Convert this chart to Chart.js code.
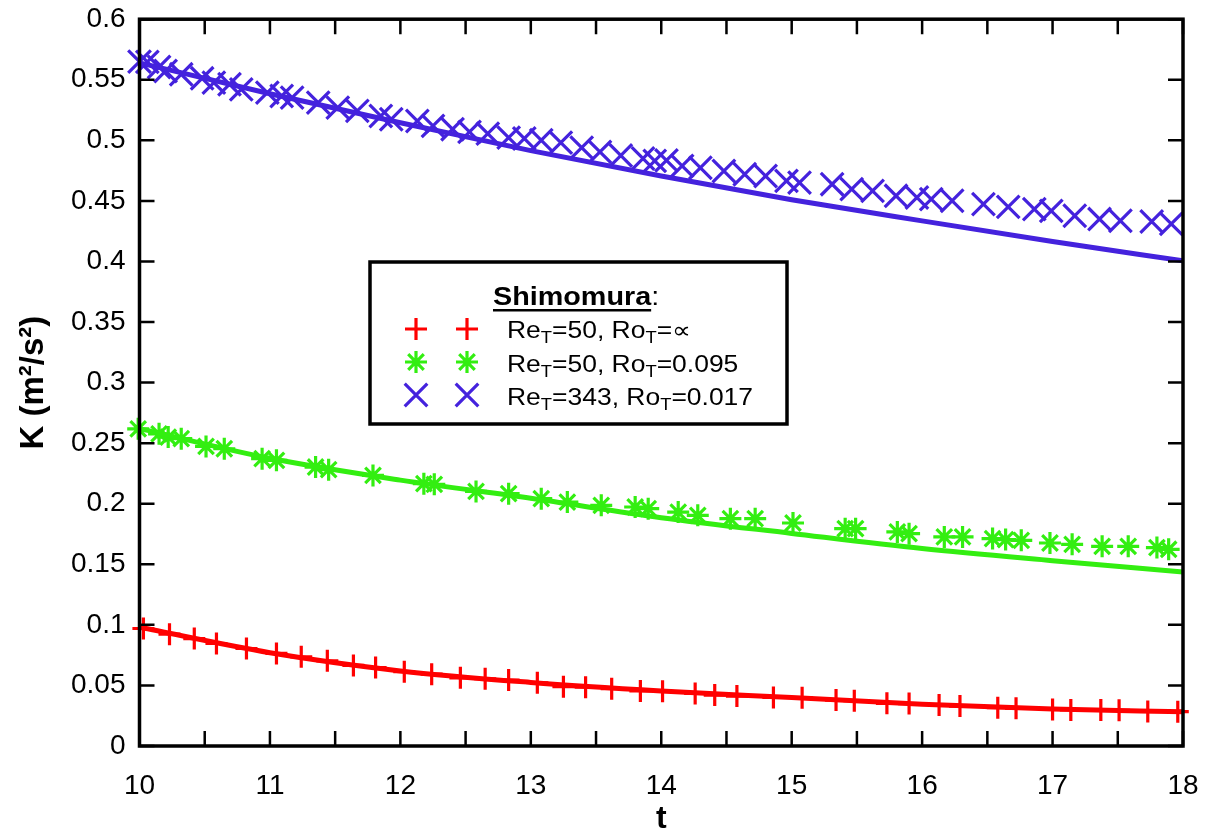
<!DOCTYPE html>
<html lang="en">
<head>
<meta charset="UTF-8">
<title>Shimomura K(t)</title>
<style>
  body { margin: 0; background: #fff; }
  #wrap { width: 1213px; height: 835px; }
</style>
</head>
<body>
<div id="wrap"><canvas id="kChart" width="1213" height="835"></canvas></div>
<script src="https://cdn.jsdelivr.net/npm/chart.js"></script>
<script>
// smooth curves (values read at t = 10..18)
const tLine = [10, 11, 12, 13, 14, 15, 16, 17, 18];
const redLine = [0.098, 0.077, 0.062, 0.0525, 0.0455, 0.040, 0.0345, 0.0305, 0.0283];
const greenLine = [0.262, 0.2375, 0.2195, 0.2045, 0.1885, 0.1755, 0.163, 0.153, 0.1437];
const blueLine = [0.564, 0.5385, 0.5145, 0.4915, 0.4705, 0.451, 0.4335, 0.4165, 0.4005];

// Shimomura symbols
const redT = [10.03, 10.23, 10.42, 10.59, 10.82, 11.05, 11.24, 11.44, 11.64, 11.81, 12.03, 12.24, 12.46, 12.65, 12.83,
  13.05, 13.25, 13.42, 13.62, 13.84, 14.01, 14.26, 14.41, 14.58, 14.86, 15.08, 15.34, 15.48, 15.73, 15.9,
  16.13, 16.29, 16.58, 16.72, 17.0, 17.14, 17.37, 17.51, 17.73, 17.96];
const redK = [0.097, 0.0923, 0.0887, 0.0846, 0.0805, 0.0764, 0.0736, 0.0703, 0.0665, 0.0648, 0.0613, 0.0593, 0.0563, 0.0555, 0.0544,
  0.0522, 0.0490, 0.0485, 0.0473, 0.0455, 0.0452, 0.0434, 0.0420, 0.0412, 0.0401, 0.0398, 0.0379, 0.0374, 0.0352, 0.0350,
  0.0338, 0.0330, 0.0316, 0.0311, 0.0302, 0.0297, 0.0297, 0.0295, 0.0285, 0.0283];

const greenT = [9.99, 10.15, 10.22, 10.32, 10.51, 10.65, 10.94, 11.05, 11.35, 11.45, 11.79, 12.18, 12.26, 12.58, 12.83,
  13.08, 13.28, 13.54, 13.8, 13.9, 14.13, 14.28, 14.53, 14.72, 15.01, 15.41, 15.49, 15.81, 15.9, 16.17,
  16.31, 16.54, 16.64, 16.76, 16.98, 17.15, 17.38, 17.58, 17.8, 17.89];
const greenK = [0.2618, 0.2577, 0.2550, 0.2537, 0.2473, 0.2454, 0.2372, 0.2358, 0.2303, 0.2281, 0.2234, 0.2166, 0.2160, 0.2102, 0.2083,
  0.2042, 0.2014, 0.1987, 0.1973, 0.1959, 0.1931, 0.1904, 0.1877, 0.1877, 0.1841, 0.1794, 0.1794, 0.1767, 0.1753, 0.1726,
  0.1726, 0.1712, 0.1704, 0.1698, 0.1676, 0.1665, 0.1648, 0.1648, 0.1638, 0.1624];

const blueT = [10.0, 10.06, 10.15, 10.2, 10.32, 10.48, 10.57, 10.69, 10.78, 10.98, 11.09, 11.17, 11.37, 11.52, 11.67,
  11.85, 11.93, 12.13, 12.25, 12.4, 12.53, 12.67, 12.83, 12.95, 13.08, 13.23, 13.39, 13.53, 13.69, 13.86,
  13.95, 14.04, 14.16, 14.3, 14.48, 14.64, 14.8, 14.96, 15.06, 15.31, 15.46, 15.62, 15.8, 15.96, 16.07,
  16.23, 16.47, 16.66, 16.86, 16.99, 17.17, 17.36, 17.52, 17.76, 17.91];
const blueK = [0.565, 0.5648, 0.5605, 0.5572, 0.5545, 0.5512, 0.5476, 0.5463, 0.5421, 0.5394, 0.5366, 0.5353, 0.5311, 0.527, 0.5243,
  0.5201, 0.5174, 0.516, 0.5119, 0.5092, 0.507, 0.5055, 0.5022, 0.5015, 0.5001, 0.4981, 0.494, 0.4905, 0.4875, 0.485,
  0.483, 0.4835, 0.4789, 0.4774, 0.4747, 0.472, 0.4706, 0.4665, 0.4651, 0.4638, 0.4597, 0.4583, 0.4542, 0.4528, 0.4515,
  0.4501, 0.4473, 0.4451, 0.4432, 0.4418, 0.4377, 0.435, 0.4336, 0.433, 0.431];

const xTicksMajor = [10, 11, 12, 13, 14, 15, 16, 17, 18];

const RED = '#ff0000', GREEN = '#33ee11', BLUE = '#4422dd';
const FONT = '"Liberation Sans", Arial, Helvetica, sans-serif';

const pts = (xs, ys) => xs.map((x, i) => ({ x: x, y: ys[i] }));

// draws the symbols by hand for the legend
function drawSymbol(ctx, kind, x, y, r) {
  ctx.beginPath();
  if (kind === 'plus' || kind === 'star') {
    ctx.moveTo(x - r, y); ctx.lineTo(x + r, y);
    ctx.moveTo(x, y - r); ctx.lineTo(x, y + r);
  }
  if (kind === 'x' || kind === 'star') {
    const d = r * 0.7071;
    ctx.moveTo(x - d, y - d); ctx.lineTo(x + d, y + d);
    ctx.moveTo(x - d, y + d); ctx.lineTo(x + d, y - d);
  }
  ctx.stroke();
}

// text runs, stretched a bit sideways like the original
function drawRuns(ctx, runs, x, baseY, sx) {
  runs.forEach(r => {
    ctx.font = r.font;
    ctx.save();
    ctx.translate(x, baseY + (r.dy || 0));
    ctx.scale(sx, 1);
    ctx.fillText(r.text, 0, 0);
    ctx.restore();
    const w = ctx.measureText(r.text).width * sx;
    if (r.underline) {
      ctx.fillRect(x, baseY + 4, w, 2.5);
    }
    x += w;
  });
  return x;
}

const framePlugin = {
  id: 'frame',
  afterDatasetsDraw(chart) {
    const { ctx, chartArea: a, scales } = chart;
    const xs = scales.x, ys = scales.y;
    ctx.save();
    ctx.strokeStyle = '#000';
    ctx.lineWidth = 2.5;
    ctx.beginPath();
    xs.ticks.forEach(t => {
      const px = xs.getPixelForValue(t.value);
      ctx.moveTo(px, a.bottom); ctx.lineTo(px, a.bottom - 15);
      ctx.moveTo(px, a.top); ctx.lineTo(px, a.top + 15);
    });
    ys.ticks.forEach(t => {
      const py = ys.getPixelForValue(t.value);
      ctx.moveTo(a.left, py); ctx.lineTo(a.left + 15, py);
      ctx.moveTo(a.right, py); ctx.lineTo(a.right - 15, py);
    });
    ctx.stroke();
    ctx.lineWidth = 3.5;
    ctx.strokeRect(a.left, a.top, a.right - a.left, a.bottom - a.top);
    ctx.restore();
  }
};

const legendPlugin = {
  id: 'shimoLegend',
  afterDraw(chart) {
    const ctx = chart.ctx;
    ctx.save();
    ctx.fillStyle = '#fff';
    ctx.fillRect(370, 262, 417, 162);
    ctx.strokeStyle = '#000';
    ctx.lineWidth = 3.5;
    ctx.strokeRect(370, 262, 417, 162);

    ctx.fillStyle = '#000';
    ctx.textBaseline = 'alphabetic';
    drawRuns(ctx, [
      { text: 'Shimomura', font: 'bold 25px ' + FONT, underline: true },
      { text: ':', font: '25px ' + FONT }
    ], 493, 305, 1.15);

    const main = '23px ' + FONT, sub = '16px ' + FONT;
    const rows = [
      { y: 329, base: 338, color: RED, kind: 'plus', r: 11, tail: [{ text: '=', font: main }, { text: '∝', font: '23px ' + FONT }], ret: '50' },
      { y: 362, base: 372, color: GREEN, kind: 'star', r: 11, tail: [{ text: '=0.095', font: main }], ret: '50' },
      { y: 395, base: 405, color: BLUE, kind: 'x', r: 16, tail: [{ text: '=0.017', font: main }], ret: '343' }
    ];
    rows.forEach(row => {
      ctx.strokeStyle = row.color;
      ctx.lineWidth = 3.2;
      drawSymbol(ctx, row.kind, 416, row.y, row.r);
      drawSymbol(ctx, row.kind, 467, row.y, row.r);
      ctx.fillStyle = '#000';
      drawRuns(ctx, [
        { text: 'Re', font: main },
        { text: 'T', font: sub, dy: 5 },
        { text: '=' + row.ret + ', Ro', font: main },
        { text: 'T', font: sub, dy: 5 }
      ].concat(row.tail), 507, row.base, 1.15);
    });
    ctx.restore();
  }
};

const lineDs = (data, color) => ({
  data: data, showLine: true, borderColor: color, borderWidth: 5,
  pointRadius: 0, tension: 0.4, cubicInterpolationMode: 'monotone', fill: false
});
const symDs = (data, color, style, r) => ({
  data: data, showLine: false, borderColor: color, backgroundColor: color,
  pointStyle: style, pointRadius: r, pointBorderWidth: 3.2, pointHoverRadius: r, clip: false
});

new Chart(document.getElementById('kChart').getContext('2d'), {
  type: 'scatter',
  data: {
    datasets: [
      lineDs(pts(tLine, redLine), RED),
      lineDs(pts(tLine, greenLine), GREEN),
      lineDs(pts(tLine, blueLine), BLUE),
      symDs(pts(redT, redK), RED, 'cross', 11),
      symDs(pts(greenT, greenK), GREEN, 'star', 11),
      symDs(pts(blueT, blueK), BLUE, 'crossRot', 16)
    ]
  },
  options: {
    responsive: false,
    animation: false,
    events: [],
    layout: { padding: { left: 0, right: 30, top: 18, bottom: 0 } },
    plugins: { legend: { display: false }, tooltip: { enabled: false } },
    scales: {
      x: {
        type: 'linear', min: 10, max: 18,
        grid: { display: false, drawTicks: false },
        border: { display: false },
        afterFit: s => { s.height = 89; s.paddingLeft = 0; s.paddingRight = 0; },
        ticks: {
          stepSize: 0.5, autoSkip: false, maxRotation: 0, padding: 23,
          color: '#000', font: { family: FONT, size: 28 },
          callback: v => xTicksMajor.includes(v) ? String(v) : ''
        },
        title: { display: true, text: 't', color: '#000', font: { family: FONT, size: 32, weight: 'bold', lineHeight: 1 }, padding: 0 }
      },
      y: {
        type: 'linear', min: 0, max: 0.6,
        grid: { display: false, drawTicks: false },
        border: { display: false },
        afterFit: s => { s.width = 139.5; s.paddingTop = 0; s.paddingBottom = 0; },
        ticks: {
          stepSize: 0.05, padding: 14, color: '#000', font: { family: FONT, size: 28 },
          callback: v => String(+v.toFixed(2))
        },
        title: { display: true, text: 'K (m²/s²)', color: '#000', font: { family: FONT, size: 33, weight: 'bold' }, padding: { top: 14, bottom: 0 } }
      }
    }
  },
  plugins: [framePlugin, legendPlugin]
});
</script>
</body>
</html>
